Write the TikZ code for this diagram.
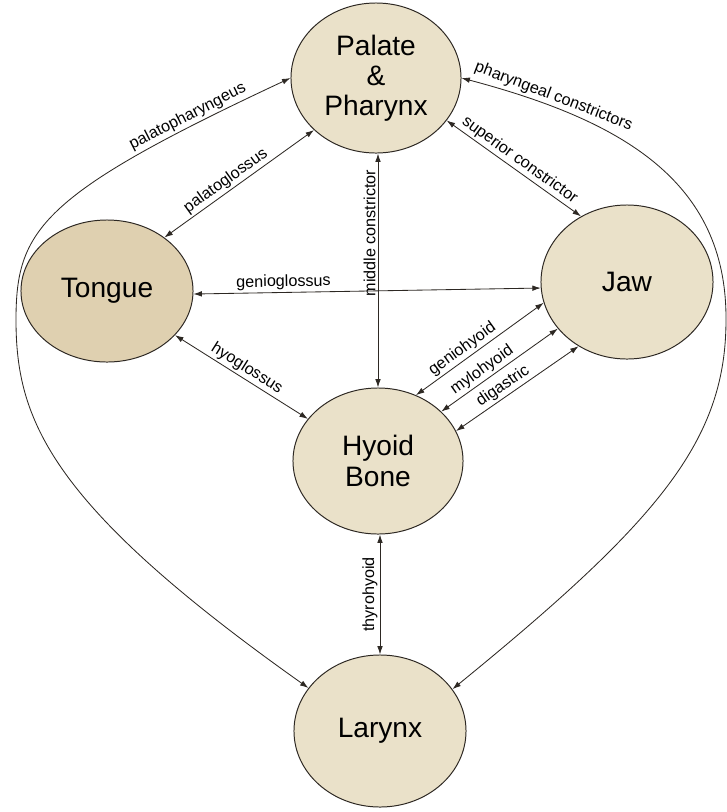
\documentclass[tikz,border=0pt]{standalone}
\usepackage{fontspec}
\setmainfont{Liberation Sans}
\usetikzlibrary{shapes.geometric}
\usetikzlibrary{arrows.meta}
\definecolor{organfill}{RGB}{234,225,201}
\definecolor{tonguefill}{RGB}{223,208,176}
\definecolor{inkline}{RGB}{45,40,35}

\begin{document}
\begin{tikzpicture}[x=0.025cm, y=-0.025cm]
\tikzstyle{organ} = [ellipse, draw=inkline, fill=organfill, line width=0.7pt, inner sep=0pt, align=center, font=\fontsize{20}{21.5}\selectfont]
\tikzstyle{muscle} = [draw=inkline, line width=0.6pt, {Latex[length=6pt,width=4pt]}-{Latex[length=6pt,width=4pt]}]
\tikzstyle{mname} = [font=\fontsize{11.5}{13}\selectfont, sloped, above, inner sep=1.5pt]

\useasboundingbox (0,0) rectangle (727,812);

\node[organ, minimum width=4.25cm, minimum height=3.75cm] (P) at (376,78) {Palate\\\&\\Pharynx};
\node[organ, fill=tonguefill, minimum width=4.3cm, minimum height=3.55cm] (T) at (107,291) {Tongue};
\node[organ, minimum width=4.3cm, minimum height=3.85cm] (J) at (627,282) {Jaw};
\node[organ, minimum width=4.25cm, minimum height=3.65cm] (H) at (378,461) {Hyoid\\Bone};
\node[organ, minimum width=4.3cm, minimum height=3.8cm] (L) at (380,731) {Larynx};

% straight muscles
\draw[muscle] (T.43) -- (P.220) node[mname, pos=0.45] {palatoglossus};
\draw[muscle] (P.329) -- (J.125) node[mname, pos=0.5] {superior constrictor};
\draw[muscle] (T.358) -- (J.184) node[mname, pos=0.26] {genioglossus};
\draw[muscle] (T.327) -- (H.149) node[mname, pos=0.5] {hyoglossus};
\draw[muscle] (H.60) -- (J.194) node[mname, pos=0.41] {geniohyoid};
\draw[muscle] (H.38) -- (J.214) node[mname, pos=0.4] {mylohyoid};
\draw[muscle] (H.21) -- (J.233) node[mname, pos=0.43] {digastric};
\draw[muscle] (H.north) -- (H.north |- P.south) node[mname, pos=0.66] {middle constrictor};
\draw[muscle] (L.north) -- (L.north |- H.south) node[mname, pos=0.5] {thyrohyoid};

% outer curves
\draw[muscle] (L.149) .. controls (50,505) and (16,420) .. (16,320)
  .. controls (16,230) and (40,195) .. (P.180) node[mname, pos=0.85] {palatopharyngeus};
\draw[muscle] (P.0) .. controls (620,120) and (727,180) .. (726,320) node[mname, pos=0.2] {pharyngeal constrictors}
  .. controls (726,440) and (660,520) .. (L.30);
\end{tikzpicture}
\end{document}
